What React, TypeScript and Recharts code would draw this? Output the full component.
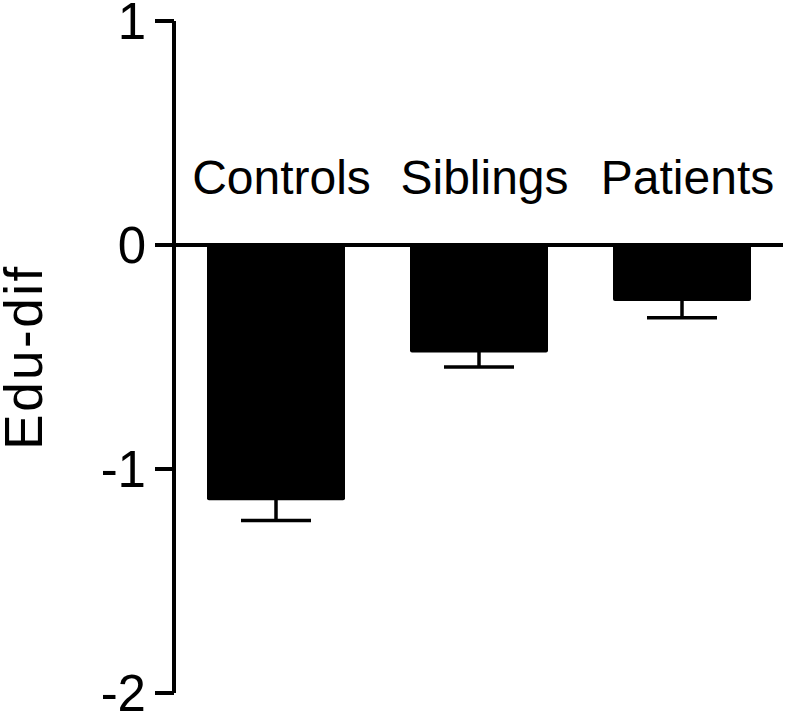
import React from 'react';
import {
  Bar,
  BarChart,
  ErrorBar,
  ReferenceDot,
  ReferenceLine,
  XAxis,
  YAxis,
} from 'recharts';

const categories = ['Controls', 'Siblings', 'Patients'];
const means = [-1.14, -0.48, -0.25];
// error bars are drawn downward only; the tiny upper part keeps the unused cap hidden inside the bar
const errorsDown = [0.09, 0.065, 0.075];
const errorsUp = [0.01, 0.01, 0.01];
const yTicks = [-2, -1, 0, 1];

const data = categories.map((group, i) => ({
  group,
  value: means[i],
  err: [errorsDown[i], errorsUp[i]],
}));

const FONT = '"Liberation Sans", Arial, sans-serif';

export default function App() {
  return (
    <div style={{ position: 'absolute', left: 0, top: 0, width: 787, height: 711, background: '#fff' }}>
      <BarChart
        width={787}
        height={711}
        data={data}
        margin={{ top: 21, right: 4, bottom: 18, left: 0 }}
        style={{ fontFamily: FONT }}
      >
        <XAxis dataKey="group" hide height={0} />
        <YAxis
          type="number"
          domain={[-2, 1]}
          ticks={yTicks}
          interval={0}
          width={174}
          tickSize={19}
          tickMargin={9}
          axisLine={{ stroke: '#000', strokeWidth: 4 }}
          tickLine={{ stroke: '#000', strokeWidth: 4 }}
          tick={{ fill: '#000', fontSize: 51, fontFamily: FONT }}
          label={{
            value: 'Edu-dif',
            angle: -90,
            position: 'insideLeft',
            offset: 23,
            fill: '#000',
            fontSize: 53,
            fontFamily: FONT,
            style: { textAnchor: 'middle', letterSpacing: 2.5 },
          }}
        />
        <Bar dataKey="value" fill="#000" barSize={138} radius={2} isAnimationActive={false}>
          <ErrorBar dataKey="err" direction="y" width={35} stroke="#000" strokeWidth={3.5} />
        </Bar>
        <ReferenceLine y={0} stroke="#000" strokeWidth={4} />
        {categories.map((c) => (
          <ReferenceDot
            key={c}
            x={c}
            y={0}
            r={0}
            fill="none"
            stroke="none"
            label={{
              value: c,
              position: 'top',
              offset: 51,
              dx: 6,
              fill: '#000',
              fontSize: 48,
              fontFamily: FONT,
            }}
          />
        ))}
      </BarChart>
    </div>
  );
}
